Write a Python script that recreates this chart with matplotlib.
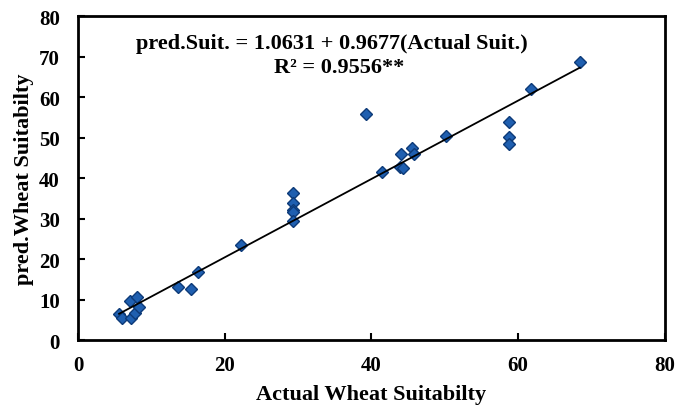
import matplotlib.pyplot as plt
import numpy as np

# valeurs
actual = [5.6, 5.95, 7.2, 7.1, 8.0, 7.8, 8.35, 13.6, 15.4, 16.4, 22.2,
          29.3, 29.3, 29.3, 29.3, 29.3, 39.3, 41.5, 44.0, 43.9, 44.3,
          45.5, 45.8, 50.1, 58.7, 58.7, 58.7, 61.7, 68.4]
predicted = [6.4, 5.4, 5.4, 9.6, 10.7, 6.8, 8.2, 13.0, 12.6, 16.9, 23.5,
             36.3, 33.8, 32.1, 31.5, 29.5, 55.8, 41.6, 45.9, 42.8, 42.5,
             47.3, 45.9, 50.3, 53.9, 50.2, 48.5, 62.0, 68.6]
intercept = 1.0631
slope = 0.9677

plt.rcParams['font.family'] = ['Liberation Serif', 'DejaVu Serif']
plt.rcParams['font.weight'] = 'bold'

fig = plt.figure(figsize=(6.8, 4.06), dpi=100)
ax = fig.add_axes([0.1147, 0.160, 0.863, 0.798])

ax.plot(actual, predicted, 'D', color='#1f5fb0', markeredgecolor='#0d3a78',
        markersize=6, markeredgewidth=1)
xl = np.array([min(actual), max(actual)])
ax.plot(xl, intercept + slope * xl, color='black', linewidth=1.3)

ax.set_xlim(0, 80)
ax.set_ylim(0, 80)
ax.set_xticks(range(0, 81, 20))
ax.set_yticks(range(0, 81, 10))
ax.tick_params(direction='in', length=5, width=1.5, labelsize=15)
ax.tick_params(axis='y', pad=13)
ax.tick_params(axis='x', pad=11)
for lab in ax.get_xticklabels() + ax.get_yticklabels():
    lab.set_fontweight('bold')
for s in ax.spines.values():
    s.set_linewidth(2)

ax.set_xlabel('Actual Wheat Suitabilty', fontsize=16, fontweight='bold', labelpad=6)
ax.set_ylabel('pred.Wheat Suitabilty', fontsize=16, fontweight='bold', labelpad=4)

ax.text(0.433, 0.917, 'pred.Suit. = 1.0631 + 0.9677(Actual Suit.)',
        transform=ax.transAxes, ha='center', va='center', fontsize=16, fontweight='bold')
ax.text(0.445, 0.843, 'R² = 0.9556**', transform=ax.transAxes,
        ha='center', va='center', fontsize=16, fontweight='bold')

fig.savefig('out.png', dpi=100)
